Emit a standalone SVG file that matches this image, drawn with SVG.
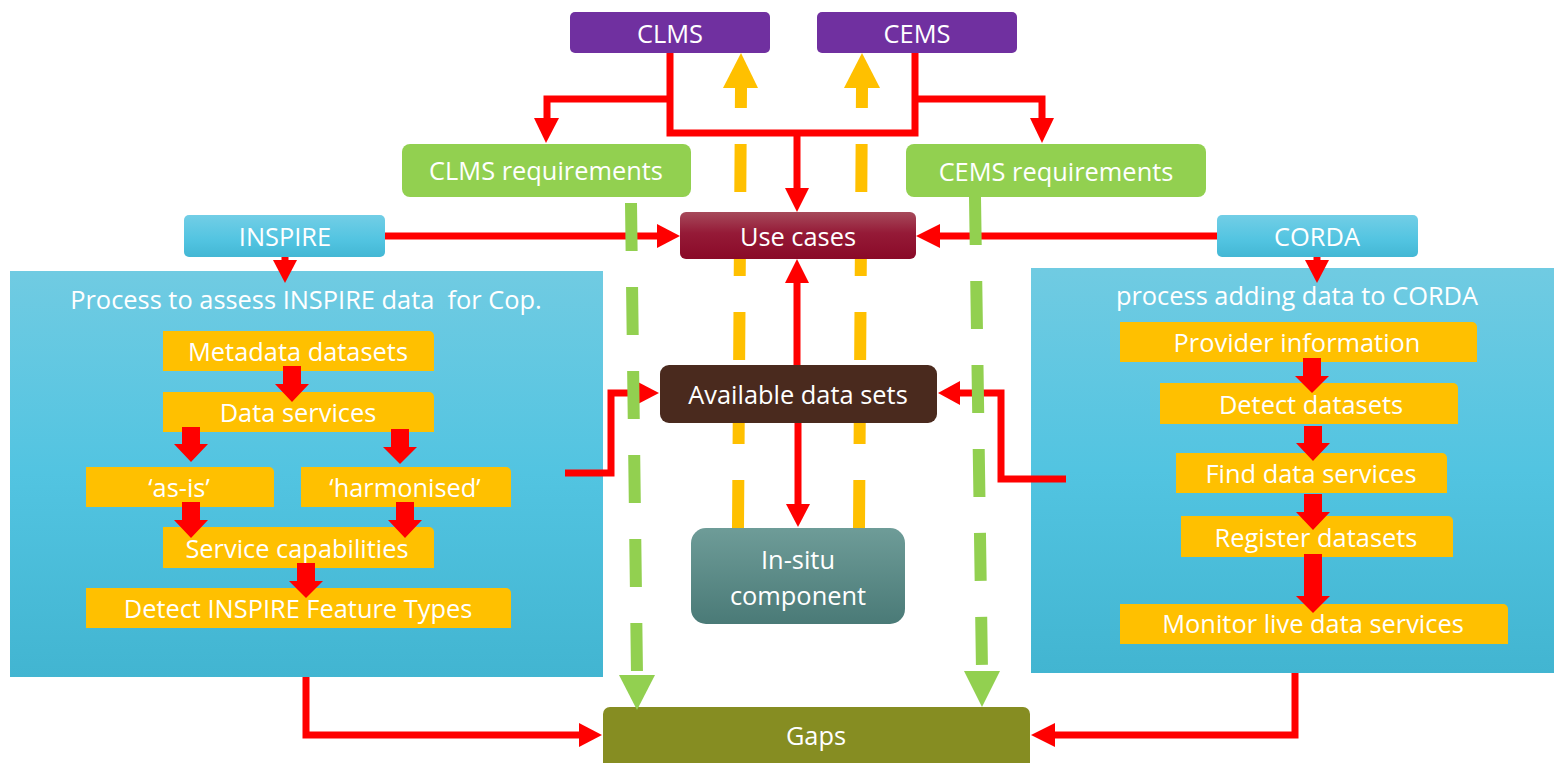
<svg xmlns="http://www.w3.org/2000/svg" width="1554" height="763" viewBox="0 0 1554 763">
<defs>
<linearGradient id="gPanel" x1="0" y1="0" x2="0" y2="1">
<stop offset="0" stop-color="#70CBE2"/><stop offset="0.5" stop-color="#52C4E1"/><stop offset="1" stop-color="#42B5D1"/>
</linearGradient>
<linearGradient id="gBlue" x1="0" y1="0" x2="0" y2="1">
<stop offset="0" stop-color="#72CEE6"/><stop offset="0.6" stop-color="#52C4E1"/><stop offset="1" stop-color="#43B7D4"/>
</linearGradient>
<linearGradient id="gUse" x1="0" y1="0" x2="0" y2="1">
<stop offset="0" stop-color="#A64A5B"/><stop offset="0.45" stop-color="#951A37"/><stop offset="1" stop-color="#8A0A28"/>
</linearGradient>
<linearGradient id="gSitu" x1="0" y1="0" x2="0" y2="1">
<stop offset="0" stop-color="#6E9C98"/><stop offset="1" stop-color="#4A7A77"/>
</linearGradient>
<style>
.t{font-family:"Open Sans","Noto Sans","Liberation Sans",sans-serif;font-size:25.4px;fill:#FFFFFF;text-anchor:middle}
.purple{fill:#7030A0}
.green{fill:#92D050}
.orange{fill:#FFC000}
.red{fill:#FF0000}
.rl{fill:none;stroke:#FF0000;stroke-width:7;stroke-linejoin:miter}
.od{fill:none;stroke:#FFC000;stroke-width:12;stroke-dasharray:48 36}
.gd{fill:none;stroke:#92D050;stroke-width:12;stroke-dasharray:48 36}
</style>
</defs>
<rect x="0" y="0" width="1554" height="763" fill="#FFFFFF"/>

<g id="panel-inspire">
<rect x="10" y="271" width="593" height="406" fill="url(#gPanel)"/>
<text class="t" x="306" y="309" xml:space="preserve">Process to assess INSPIRE data  for Cop.</text>
</g>
<g id="panel-corda">
<rect x="1031" y="268" width="523" height="405" fill="url(#gPanel)"/>
<text class="t" x="1297" y="305">process adding data to CORDA</text>
</g>

<g id="metadata-datasets"><path class="orange" d="M163 331h266a5 5 0 0 1 5 5v35h-271z"/><text class="t" x="298" y="361">Metadata datasets</text></g>
<g id="data-services"><path class="orange" d="M163 392h266a5 5 0 0 1 5 5v35h-271z"/><text class="t" x="298" y="422">Data services</text></g>
<g id="as-is"><path class="orange" d="M86 467h183a5 5 0 0 1 5 5v35h-188z"/><text class="t" x="179" y="497">‘as-is’</text></g>
<g id="harmonised"><path class="orange" d="M301 467h205a5 5 0 0 1 5 5v35h-210z"/><text class="t" x="405" y="497">‘harmonised’</text></g>
<g id="service-capabilities"><path class="orange" d="M163 527h266a5 5 0 0 1 5 5v36h-271z"/><text class="t" x="297" y="558">Service capabilities</text></g>
<g id="detect-feature-types"><path class="orange" d="M86 588h420a5 5 0 0 1 5 5v35h-425z"/><text class="t" x="298" y="618">Detect INSPIRE Feature Types</text></g>

<g id="provider-information"><path class="orange" d="M1120 322h352a5 5 0 0 1 5 5v35h-357z"/><text class="t" x="1297" y="352">Provider information</text></g>
<g id="detect-datasets"><path class="orange" d="M1160 383h293a5 5 0 0 1 5 5v36h-298z"/><text class="t" x="1311" y="414">Detect datasets</text></g>
<g id="find-data-services"><path class="orange" d="M1176 453h266a5 5 0 0 1 5 5v35h-271z"/><text class="t" x="1311" y="483">Find data services</text></g>
<g id="register-datasets"><path class="orange" d="M1181 516h267a5 5 0 0 1 5 5v36h-272z"/><text class="t" x="1316" y="547">Register datasets</text></g>
<g id="monitor-live"><path class="orange" d="M1120 604h383a5 5 0 0 1 5 5v35h-388z"/><text class="t" x="1313" y="633">Monitor live data services</text></g>

<g id="panel-arrows">
<polygon class="red" points="283,366 301,366 301,384 309,384 292,402 275,384 283,384"/>
<polygon class="red" points="182,427 200,427 200,444 208,444 191,462 174,444 182,444"/>
<polygon class="red" points="391,429 409,429 409,447 417,447 400,464 383,447 391,447"/>
<polygon class="red" points="182,502 200,502 200,520 208,520 191,538 174,520 182,520"/>
<polygon class="red" points="396,502 414,502 414,520 422,520 405,538 388,520 396,520"/>
<polygon class="red" points="297,563 315,563 315,581 323,581 306,598 289,581 297,581"/>
<polygon class="red" points="1303,358 1321,358 1321,376 1329,376 1312,393 1295,376 1303,376"/>
<polygon class="red" points="1304,426 1322,426 1322,443 1330,443 1313,461 1296,443 1304,443"/>
<polygon class="red" points="1304,494 1322,494 1322,512 1330,512 1313,530 1296,512 1304,512"/>
<polygon class="red" points="1304,554 1322,554 1322,596 1330,596 1313,613 1296,596 1304,596"/>
</g>

<g id="orange-connectors">
<path class="od" d="M738 528L741 88"/>
<polygon class="orange" points="723,88 758,88 741,53"/>
<path class="od" d="M859 528L862 88"/>
<polygon class="orange" points="844,88 880,88 862,53"/>
</g>

<g id="clms"><rect class="purple" x="570" y="12" width="200" height="41" rx="5"/><text class="t" x="670" y="43">CLMS</text></g>
<g id="cems"><rect class="purple" x="817" y="12" width="200" height="41" rx="5"/><text class="t" x="917" y="43">CEMS</text></g>
<g id="clms-requirements"><rect class="green" x="402" y="144" width="289" height="53" rx="8"/><text class="t" x="546" y="180">CLMS requirements</text></g>
<g id="cems-requirements"><rect class="green" x="906" y="144" width="300" height="53" rx="8"/><text class="t" x="1056" y="181">CEMS requirements</text></g>
<g id="inspire"><rect x="184" y="215" width="201" height="42" rx="5" fill="url(#gBlue)"/><text class="t" x="285" y="246">INSPIRE</text></g>
<g id="corda"><rect x="1217" y="215" width="201" height="42" rx="5" fill="url(#gBlue)"/><text class="t" x="1317" y="246">CORDA</text></g>
<g id="use-cases"><rect x="680" y="212" width="236" height="47" rx="6" fill="url(#gUse)"/><text class="t" x="798" y="246">Use cases</text></g>
<g id="available-data-sets"><rect x="660" y="365" width="277" height="58" rx="9" fill="#4A2A1E"/><text class="t" x="798" y="404">Available data sets</text></g>
<g id="in-situ"><rect x="691" y="528" width="214" height="96" rx="15" fill="url(#gSitu)"/><text class="t" x="798" y="569">In-situ</text><text class="t" x="798" y="605">component</text></g>
<g id="gaps"><rect x="603" y="707" width="427" height="64" rx="7" fill="#868D22"/><text class="t" x="816" y="745">Gaps</text></g>

<g id="connectors">
<path class="rl" d="M670 53V133H915V53"/>
<path class="rl" d="M670 99H547V120"/><polygon class="red" points="534,118 559,118 546,143"/>
<path class="rl" d="M915 99H1042V120"/><polygon class="red" points="1030,118 1054,118 1042,143"/>
<path class="rl" d="M797 133V190"/><polygon class="red" points="785,188 809,188 797,212"/>
<path class="rl" d="M385 236H660"/><polygon class="red" points="657,224 657,248 680,236"/>
<path class="rl" d="M1217 236H938"/><polygon class="red" points="940,224 940,248 916,236"/>
<path class="rl" d="M285 257V262"/><polygon class="red" points="273,260 297,260 285,283"/>
<path class="rl" d="M1317 257V262"/><polygon class="red" points="1305,260 1329,260 1317,283"/>
<path class="rl" d="M797 365V280"/><polygon class="red" points="785,283 809,283 797,259"/>
<path class="rl" d="M798 423V506"/><polygon class="red" points="786,504 810,504 798,527"/>
<path class="rl" d="M565 473H611V393H638"/><polygon class="red" points="636,381 636,405 659,393"/>
<path class="rl" d="M1066 479H1001V393H958"/><polygon class="red" points="960,381 960,405 938,393"/>
<path class="rl" d="M306 677V735H581"/><polygon class="red" points="579,723 579,747 602,735"/>
<path class="rl" d="M1295 673V735H1053"/><polygon class="red" points="1055,723 1055,747 1031,735"/>
</g>

<g id="green-connectors">
<path class="gd" d="M631 203L637 675"/>
<polygon class="green" points="619,675 655,675 637,710"/>
<path class="gd" d="M975 197L982 671"/>
<polygon class="green" points="964,671 1000,671 982,707"/>
</g>
</svg>
